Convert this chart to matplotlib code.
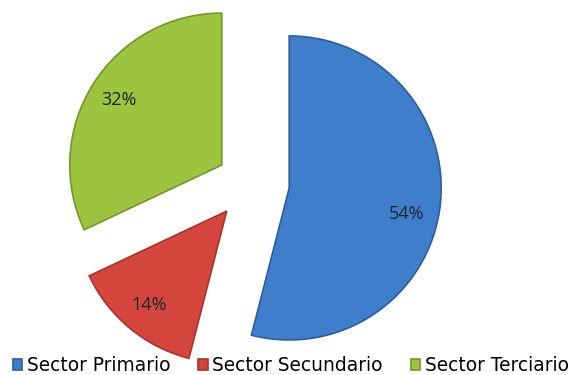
import matplotlib.pyplot as plt

# sector shares (%)
sectors = ['Sector Primario', 'Sector Secundario', 'Sector Terciario']
shares = [54, 14, 32]
colors = ['#3e7ecb', '#d4463d', '#9cc43f']
edges = ['#2c5e9e', '#a8332c', '#76962c']
explode = [0.26, 0.24, 0.22]

W, H = 572, 375
R = 152.0          # pie radius in pixels
cx, cy = 250, 192  # pie centre, pixels from bottom-left

fig = plt.figure(figsize=(W / 100, H / 100), dpi=100)
ax = fig.add_axes([0, 0, 1, 1])

wedges, texts, autotexts = ax.pie(
    shares, colors=colors, explode=explode, startangle=90, counterclock=False,
    autopct='%1.0f%%', pctdistance=0.8,
    wedgeprops=dict(linewidth=1.2),
    textprops=dict(fontsize=13, family='Open Sans', color='#1e2430'))
for w, ec in zip(wedges, edges):
    w.set_edgecolor(ec)
# primary label sits a little lower inside its wedge
x, y = autotexts[0].get_position()
autotexts[0].set_position((x - 0.02, y - 0.07))

ax.set_xlim(-cx / R, (W - cx) / R)
ax.set_ylim(-cy / R, (H - cy) / R)
ax.set_aspect('auto')
ax.axis('off')

leg = fig.legend(wedges, sectors, loc='lower left', bbox_to_anchor=(0.0, -0.035),
                 ncol=3, frameon=False, handlelength=0.5, handleheight=0.5,
                 handletextpad=0.25, columnspacing=1.5, borderaxespad=0.3,
                 prop=dict(family='DejaVu Sans', size=13.4))

fig.savefig('out.png', dpi=100)
